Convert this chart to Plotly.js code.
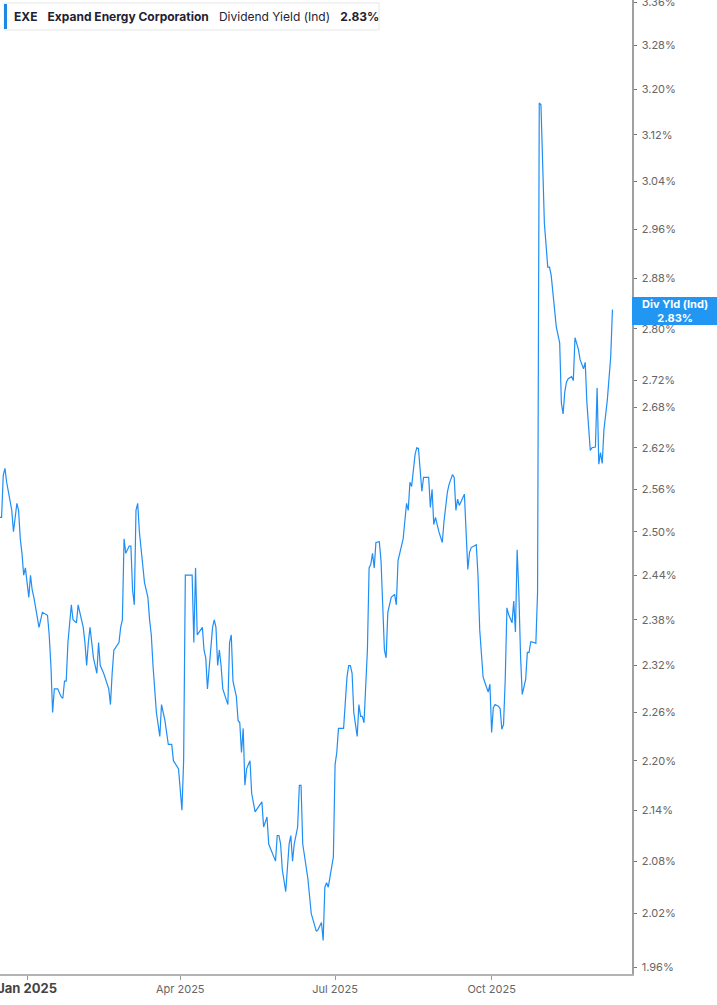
<!DOCTYPE html>
<html>
<head>
<meta charset="utf-8">
<script src="https://cdn.plot.ly/plotly-3.0.1.min.js"></script>
<style>html,body{margin:0;padding:0;background:#fff;}#chart{width:717px;height:1005px;}</style>
</head>
<body>
<div id="chart"></div>
<script>
const dates = [
'2024-12-16','2024-12-17','2024-12-18','2024-12-19','2024-12-20','2024-12-22','2024-12-23','2024-12-24','2024-12-26','2024-12-27',
'2024-12-28','2024-12-29','2024-12-30','2024-12-31','2025-01-01','2025-01-02','2025-01-03','2025-01-04','2025-01-05','2025-01-07',
'2025-01-08','2025-01-10','2025-01-13','2025-01-14','2025-01-15','2025-01-16','2025-01-17','2025-01-19','2025-01-21','2025-01-22',
'2025-01-23','2025-01-24','2025-01-25','2025-01-27','2025-01-28','2025-01-30','2025-01-31','2025-02-01','2025-02-03','2025-02-04',
'2025-02-05','2025-02-06','2025-02-07','2025-02-08','2025-02-09','2025-02-11','2025-02-12','2025-02-13','2025-02-15','2025-02-18',
'2025-02-19','2025-02-20','2025-02-21','2025-02-24','2025-02-25','2025-02-26','2025-02-27','2025-02-28','2025-03-02','2025-03-03',
'2025-03-04','2025-03-05','2025-03-06','2025-03-07','2025-03-08','2025-03-11','2025-03-13','2025-03-14','2025-03-15','2025-03-16',
'2025-03-18','2025-03-20','2025-03-21','2025-03-23','2025-03-25','2025-03-26','2025-03-27','2025-03-28','2025-03-31','2025-04-02',
'2025-04-03','2025-04-04','2025-04-08','2025-04-09','2025-04-10','2025-04-11','2025-04-14','2025-04-15','2025-04-16','2025-04-17',
'2025-04-19','2025-04-20','2025-04-21','2025-04-22','2025-04-23','2025-04-24','2025-04-25','2025-04-26','2025-04-29','2025-04-30',
'2025-05-01','2025-05-02','2025-05-04','2025-05-05','2025-05-06','2025-05-07','2025-05-08','2025-05-09','2025-05-10','2025-05-12',
'2025-05-13','2025-05-14','2025-05-15','2025-05-17','2025-05-19','2025-05-20','2025-05-21','2025-05-22','2025-05-23','2025-05-25',
'2025-05-27','2025-05-28','2025-05-29','2025-05-30','2025-05-31','2025-06-02','2025-06-03','2025-06-04','2025-06-05','2025-06-06',
'2025-06-07','2025-06-09','2025-06-10','2025-06-11','2025-06-12','2025-06-15','2025-06-17','2025-06-20','2025-06-21','2025-06-23',
'2025-06-24','2025-06-25','2025-06-26','2025-06-27','2025-06-30','2025-07-01','2025-07-02','2025-07-03','2025-07-06','2025-07-08',
'2025-07-09','2025-07-10','2025-07-11','2025-07-12','2025-07-14','2025-07-15','2025-07-16','2025-07-17','2025-07-18','2025-07-20',
'2025-07-21','2025-07-22','2025-07-23','2025-07-24','2025-07-25','2025-07-27','2025-07-28','2025-07-30','2025-07-31','2025-08-01',
'2025-08-03','2025-08-05','2025-08-06','2025-08-07','2025-08-08','2025-08-10','2025-08-12','2025-08-13','2025-08-14','2025-08-15',
'2025-08-17','2025-08-18','2025-08-19','2025-08-21','2025-08-22','2025-08-25','2025-08-26','2025-08-27','2025-08-28','2025-08-29',
'2025-08-31','2025-09-02','2025-09-03','2025-09-05','2025-09-06','2025-09-08','2025-09-09','2025-09-10','2025-09-11','2025-09-12',
'2025-09-15','2025-09-16','2025-09-17','2025-09-18','2025-09-19','2025-09-22','2025-09-23','2025-09-24','2025-09-25','2025-09-26',
'2025-09-28','2025-09-29','2025-09-30','2025-10-01','2025-10-02','2025-10-03','2025-10-05','2025-10-06','2025-10-07','2025-10-08',
'2025-10-09','2025-10-10','2025-10-11','2025-10-13','2025-10-14','2025-10-15','2025-10-16','2025-10-17','2025-10-18','2025-10-19',
'2025-10-21','2025-10-22','2025-10-23','2025-10-24','2025-10-26','2025-10-27','2025-10-28','2025-10-29','2025-10-30','2025-10-31',
'2025-11-01','2025-11-03','2025-11-04','2025-11-05','2025-11-07','2025-11-08','2025-11-10','2025-11-11','2025-11-12','2025-11-13',
'2025-11-14','2025-11-15','2025-11-17','2025-11-18','2025-11-19','2025-11-21','2025-11-22','2025-11-24','2025-11-25','2025-11-26',
'2025-11-28','2025-11-29','2025-12-01','2025-12-02','2025-12-03','2025-12-04','2025-12-05','2025-12-06','2025-12-08','2025-12-09',
'2025-12-10','2025-12-11'
];

const dividendYield = [
2.52,2.52,2.58,2.59,2.57,2.54,2.53,2.50,2.54,2.53,
2.49,2.47,2.44,2.45,2.43,2.41,2.44,2.42,2.41,2.38,
2.37,2.39,2.386,2.36,2.32,2.26,2.29,2.29,2.28,2.278,
2.30,2.30,2.35,2.40,2.38,2.376,2.40,2.39,2.37,2.35,
2.32,2.35,2.37,2.35,2.33,2.31,2.35,2.32,2.31,2.29,
2.27,2.31,2.34,2.35,2.37,2.38,2.49,2.47,2.48,2.48,
2.42,2.40,2.53,2.54,2.50,2.43,2.41,2.38,2.36,2.32,
2.26,2.23,2.27,2.25,2.22,2.22,2.22,2.20,2.19,2.14,
2.20,2.44,2.44,2.35,2.45,2.36,2.37,2.34,2.33,2.29,
2.34,2.37,2.38,2.37,2.32,2.34,2.32,2.29,2.27,2.35,
2.36,2.30,2.28,2.25,2.247,2.21,2.24,2.17,2.19,2.20,
2.16,2.15,2.138,2.144,2.15,2.12,2.127,2.132,2.10,2.09,
2.08,2.11,2.11,2.10,2.07,2.045,2.07,2.10,2.11,2.08,
2.10,2.12,2.17,2.17,2.10,2.06,2.02,2.00,2.002,2.01,
1.99,2.05,2.055,2.05,2.085,2.195,2.21,2.24,2.24,2.305,
2.32,2.32,2.31,2.26,2.23,2.27,2.255,2.255,2.247,2.34,
2.45,2.455,2.47,2.45,2.485,2.486,2.46,2.34,2.33,2.39,
2.41,2.414,2.40,2.46,2.47,2.49,2.54,2.53,2.57,2.564,
2.61,2.62,2.619,2.557,2.577,2.577,2.534,2.56,2.51,2.52,
2.50,2.485,2.514,2.556,2.567,2.581,2.577,2.53,2.546,2.537,
2.553,2.507,2.448,2.471,2.478,2.482,2.439,2.367,2.332,2.305,
2.292,2.286,2.296,2.235,2.266,2.27,2.268,2.265,2.239,2.245,
2.302,2.396,2.387,2.376,2.405,2.364,2.475,2.417,2.332,2.283,
2.302,2.337,2.337,2.351,2.35,2.349,2.417,3.176,3.173,3.055,
2.97,2.898,2.898,2.885,2.835,2.803,2.778,2.686,2.67,2.703,
2.718,2.723,2.726,2.72,2.786,2.768,2.752,2.738,2.748,2.686,
2.616,2.62,2.621,2.709,2.596,2.613,2.597,2.646,2.691,2.72,
2.757,2.83
];

const yTickVals = [1.96,2.02,2.08,2.14,2.20,2.26,2.32,2.38,2.44,2.50,2.56,2.62,2.68,2.72,2.80,2.88,2.96,3.04,3.12,3.20,3.28,3.36];
const yTickText = yTickVals.map(v => v.toFixed(2) + '%');
const xTickVals = ['2025-01-01','2025-04-01','2025-07-01','2025-10-01'];
const xTickText = ['<span style="font-size:13px;font-weight:bold;color:#444">Jan 2025</span>','Apr 2025','Jul 2025','Oct 2025'];
const ticker = 'EXE';
const company = 'Expand Energy Corporation';
const metric = 'Dividend Yield (Ind)';
const lastLabel = 'Div Yld (Ind)';
const lastValue = dividendYield[dividendYield.length - 1];

const W = 632, H = 974;
const px = p => p / W;
const py = p => 1 - p / H;
const sp = '\u00A0\u00A0\u00A0';

const trace = {
  x: dates, y: dividendYield, type: 'scatter', mode: 'lines',
  line: {color: '#1f8ef5', width: 1.2}, hoverinfo: 'skip'
};

const layout = {
  width: 717, height: 1005,
  margin: {l: 0, r: 85, t: 0, b: 31, pad: 0},
  paper_bgcolor: '#fff', plot_bgcolor: '#fff',
  font: {family: 'Inter, Roboto, sans-serif', color: '#666', size: 11},
  showlegend: false,
  xaxis: {
    type: 'date', range: ['2024-12-16 02:00', '2025-12-22 12:00'],
    tickvals: xTickVals, ticktext: xTickText,
    ticklabeloverflow: 'allow',
    showgrid: false, zeroline: false,
    showline: true, linecolor: '#b3b3b3', linewidth: 2,
    ticks: 'outside', ticklen: 4, tickcolor: '#999', tickwidth: 1,
    tickfont: {size: 11, color: '#666'}
  },
  yaxis: {
    type: 'log', side: 'right',
    range: [Math.log10(1.953), Math.log10(3.364)],
    tickvals: yTickVals, ticktext: yTickText,
    ticklabeloverflow: 'allow',
    ticklabelstandoff: 3,
    showgrid: false, zeroline: false,
    showline: true, linecolor: '#a0a0a0', linewidth: 1.5,
    ticks: 'outside', ticklen: 3, tickcolor: '#777', tickwidth: 1,
    tickfont: {size: 11, color: '#666'}
  },
  shapes: [
    {type: 'rect', xref: 'paper', yref: 'paper', x0: px(4), x1: px(379), y0: py(30), y1: py(3),
     line: {color: '#e6e6e6', width: 1}, fillcolor: '#fff', layer: 'above'},
    {type: 'rect', xref: 'paper', yref: 'paper', x0: px(4), x1: px(7), y0: py(29), y1: py(4),
     line: {width: 0}, fillcolor: '#1e88e5', layer: 'above'},
    {type: 'rect', xref: 'paper', yref: 'paper', x0: 1, x1: px(717), y0: py(325), y1: py(297),
     line: {width: 0}, fillcolor: '#2196f3', layer: 'above'}
  ],
  annotations: [
    {xref: 'paper', yref: 'paper', x: px(12), y: py(16.5), xanchor: 'left', yanchor: 'middle', showarrow: false,
     font: {size: 12, color: '#1f2233', family: 'Inter, Roboto, sans-serif'},
     text: '<b>' + ticker + '</b>' + sp + '<b>' + company + '</b>' + sp + metric + sp + '<b>' + lastValue.toFixed(2) + '%</b>'},
    {xref: 'paper', yref: 'paper', x: px(674.5), y: py(311), xanchor: 'center', yanchor: 'middle', showarrow: false,
     font: {size: 11, color: '#fff', family: 'Inter, Roboto, sans-serif'},
     text: '<b>' + lastLabel + '</b><br><b>' + lastValue.toFixed(2) + '%</b>'}
  ]
};

Plotly.newPlot('chart', [trace], layout, {displayModeBar: false, staticPlot: true});
</script>
</body>
</html>
